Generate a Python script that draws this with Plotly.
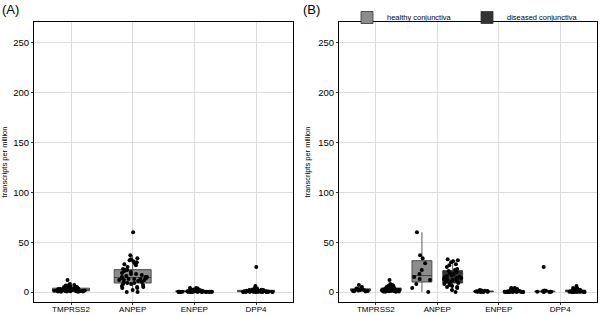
import plotly.graph_objects as go

genes = ["TMPRSS2", "ANPEP", "ENPEP", "DPP4"]

healthy_TMPRSS2 = [0.5, 0.8, 1.0, 1.2, 1.5, 1.8, 2.0, 2.5, 3.0, 3.5, 5.0, 7.0]
diseased_TMPRSS2 = [0.2, 0.3, 0.5, 0.6, 0.8, 0.9, 1.0, 1.0, 1.2, 1.3, 1.4, 1.5, 1.6, 1.8,
                    2.0, 2.0, 2.1, 2.2, 2.4, 2.6, 2.8, 3.0, 3.0, 3.2, 3.5, 3.8, 4.0, 4.2,
                    4.5, 5.0, 5.5, 6.0, 6.5, 7.0, 8.0, 12.0]
healthy_ANPEP = [60, 37, 34, 29, 22, 18, 15, 13, 12, 8, 4, 0]
diseased_ANPEP = [33, 32, 31, 30, 28, 27, 25, 23, 22, 21, 20, 19, 18, 17, 16, 15, 15, 14,
                  14, 13, 13, 12, 12, 11, 10, 10, 9, 9, 8, 7, 6, 5, 5, 4, 2, 0]
healthy_ENPEP = [0.0, 0.1, 0.2, 0.3, 0.4, 0.5, 0.6, 0.8, 1.0, 1.2, 1.5, 2.0]
diseased_ENPEP = [0.0, 0.05, 0.1, 0.1, 0.15, 0.2, 0.2, 0.25, 0.3, 0.3, 0.35, 0.4, 0.4,
                  0.45, 0.5, 0.5, 0.6, 0.6, 0.7, 0.8, 0.9, 1.0, 1.0, 1.1, 1.2, 1.3, 1.5,
                  1.6, 1.8, 2.0, 2.2, 2.5, 3.0, 3.5, 4.0, 4.0]
healthy_DPP4 = [0.0, 0.1, 0.2, 0.3, 0.4, 0.5, 0.6, 0.8, 1.0, 1.2, 1.5, 25.0]
diseased_DPP4 = [0.0, 0.05, 0.1, 0.1, 0.2, 0.2, 0.3, 0.3, 0.4, 0.4, 0.5, 0.5, 0.6, 0.6,
                 0.7, 0.8, 0.9, 1.0, 1.0, 1.1, 1.2, 1.3, 1.4, 1.5, 1.6, 1.8, 2.0, 2.0,
                 2.2, 2.4, 2.5, 2.8, 3.0, 3.5, 4.0, 6.0]

healthy = {"TMPRSS2": healthy_TMPRSS2, "ANPEP": healthy_ANPEP,
           "ENPEP": healthy_ENPEP, "DPP4": healthy_DPP4}
diseased = {"TMPRSS2": diseased_TMPRSS2, "ANPEP": diseased_ANPEP,
            "ENPEP": diseased_ENPEP, "DPP4": diseased_DPP4}

y_ticks = [0, 50, 100, 150, 200, 250]
y_range = [-10, 271]

FONT = "Liberation Sans, Arial, sans-serif"

def flat(d):
    xs, ys = [], []
    for g in genes:
        xs += [g] * len(d[g])
        ys += list(d[g])
    return xs, ys

hx, hy = flat(healthy)
dx, dy = flat(diseased)

fig = go.Figure()

common = dict(boxpoints="all", jitter=1.0, pointpos=0, whiskerwidth=0,
              marker=dict(color="black", size=4),
              line=dict(color="#333333", width=0.8))

# Panel A: all samples
fig.add_trace(go.Box(x=hx + dx, y=hy + dy, xaxis="x", yaxis="y", width=0.6,
                     fillcolor="#8c8c8c", showlegend=False, name="all", **common))
# Panel B: by condition
fig.add_trace(go.Box(x=hx, y=hy, xaxis="x2", yaxis="y2", name="healthy conjunctiva",
                     fillcolor="#8c8c8c", offsetgroup="h", **common))
fig.add_trace(go.Box(x=dx, y=dy, xaxis="x2", yaxis="y2", name="diseased conjunctiva",
                     fillcolor="#333333", offsetgroup="d", **common))

xax = dict(type="category", categoryorder="array", categoryarray=genes,
           showline=True, mirror=True, linecolor="black", linewidth=1,
           showgrid=True, gridcolor="#dcdcdc", gridwidth=0.8,
           ticks="outside", ticklen=2, tickcolor="#333333", ticklabelstandoff=-3,
           tickfont=dict(family=FONT, size=8, color="black"),
           range=[-0.6, 3.6], automargin=False, fixedrange=True)
yax = dict(range=y_range, tickvals=y_ticks,
           showline=True, mirror=True, linecolor="black", linewidth=1,
           showgrid=True, gridcolor="#dcdcdc", gridwidth=0.8, zeroline=False,
           ticks="outside", ticklen=2, tickcolor="#333333",
           tickfont=dict(family=FONT, size=9.5, color="black"),
           title=dict(text="transcripts per million", standoff=6,
                      font=dict(family=FONT, size=7.5, color="black")),
           automargin=False, fixedrange=True)

ydom = [1 - 302 / 315, 1 - 22 / 315]
fig.update_layout(
    width=600, height=315,
    margin=dict(l=0, r=0, t=0, b=0, autoexpand=False),
    paper_bgcolor="white", plot_bgcolor="white",
    boxmode="group", boxgap=0.0, boxgroupgap=0.35,
    xaxis=dict(xax, domain=[34 / 600, 293 / 600], anchor="y"),
    yaxis=dict(yax, domain=ydom, anchor="x"),
    xaxis2=dict(xax, domain=[339 / 600, 597 / 600], anchor="y2"),
    yaxis2=dict(yax, domain=ydom, anchor="x2"),
    legend=dict(orientation="h", x=347 / 600, y=1 - 3 / 315, xanchor="left", yanchor="top",
                font=dict(family=FONT, size=7.5, color="black"),
                bgcolor="rgba(0,0,0,0)", itemwidth=30, entrywidth=75),
    font=dict(family=FONT),
    annotations=[
        dict(text="(A)", x=0, y=1, xref="paper", yref="paper", xanchor="left", yanchor="top",
             showarrow=False, font=dict(family=FONT, size=13, color="black"), xshift=0, yshift=0),
        dict(text="(B)", x=301 / 600, y=1, xref="paper", yref="paper", xanchor="left",
             yanchor="top", showarrow=False, font=dict(family=FONT, size=13, color="black"),
             yshift=0),
    ],
)

fig.write_html("out.html", config={"displayModeBar": False},
               post_script="document.body.style.margin='0';")
